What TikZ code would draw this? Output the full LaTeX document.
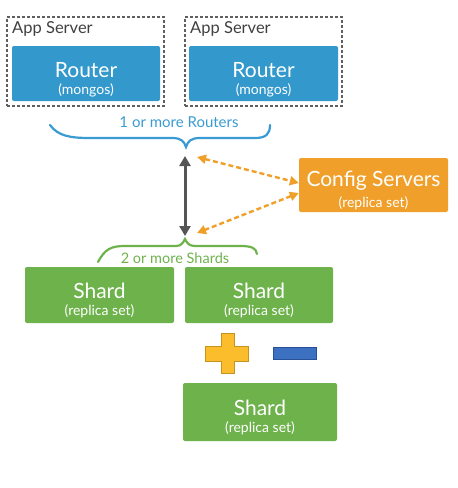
\documentclass[tikz,border=0pt]{standalone}
\usepackage{fontspec}
\setmainfont{Lato}
\usetikzlibrary{arrows.meta,positioning,calc}
\definecolor{mgblue}{RGB}{51,153,204}
\definecolor{mgbrace}{RGB}{58,155,210}
\definecolor{mgorange}{RGB}{240,160,42}
\definecolor{mggreen}{RGB}{110,178,76}
\definecolor{mggray}{RGB}{85,85,85}
\definecolor{mgdash}{RGB}{95,95,95}
\definecolor{mgyellow}{RGB}{252,189,45}
\definecolor{mgyellowd}{RGB}{196,148,30}
\definecolor{mgminus}{RGB}{60,112,192}
\definecolor{mgminusd}{RGB}{40,80,150}
\newcommand{\twoline}[2]{{\fontsize{21}{21}\selectfont\rule{0pt}{27pt}#1}\\[5pt]{\fontsize{14}{14}\selectfont #2}}
\tikzset{
  mbox/.style={rounded corners=2pt, fill=#1, text=white, align=center,
               inner sep=0pt, minimum height=55pt},
  appbox/.style={draw=mgdash, dash pattern=on 3pt off 2pt, line width=1.2pt,
                 minimum width=157pt, minimum height=89pt},
  applbl/.style={anchor=base west, inner sep=0pt, text=black!75,
                 font=\fontsize{16.5}{16.5}\selectfont},
  bracetxt/.style 2 args={text=#1, inner sep=0pt, font=\fontsize{#2}{#2}\selectfont},
  bracedraw/.style={draw=#1, line width=2.2pt, line cap=round},
  dasharrow/.style={draw=mgorange, line width=2.4pt, dash pattern=on 5pt off 3pt,
                    {Triangle[length=9pt,width=9pt]}-{Triangle[length=9pt,width=9pt]}},
}
\begin{document}
\begin{tikzpicture}[x=1pt, y=-1pt]
\useasboundingbox (0,0) rectangle (458,488);
% App servers with routers
\node[appbox] (app1) at (85.5,61.5) {};
\node[appbox] (app2) at (263.5,61.5) {};
\node[applbl] (app1lbl) at (12,33) {App Server};
\node[applbl] (app2lbl) at (190,33) {App Server};
\node[mbox=mgblue, minimum width=148pt] (router1) at (86,73.5) {\twoline{Router}{(mongos)}};
\node[mbox=mgblue, minimum width=149pt] (router2) at (263.5,73.5) {\twoline{Router}{(mongos)}};
% Router brace
\draw[bracedraw=mgbrace] (50,125) .. controls (58,136) and (70,138) .. (90,138) -- (172,138)
  .. controls (181,138) and (184,141) .. (186,147) .. controls (188,141) and (191,138) .. (200,138)
  -- (255,138) .. controls (266,138) and (270,134) .. (270,125);
\node[bracetxt={mgbrace}{15}] (routertxt) at (179,122) {1 or more Routers};
% Config servers
\node[mbox=mgorange, minimum width=149pt, minimum height=54pt] (cfg) at (373.5,185) {\twoline{Config Servers}{(replica set)}};
% Shard brace
\draw[bracedraw=mggreen] (98,262) .. controls (105,249) and (111,246) .. (125,246) -- (176,246)
  .. controls (181,246) and (183,243) .. (185,239) .. controls (187,243) and (189,246) .. (195,246)
  -- (240,246) .. controls (252,246) and (256,248) .. (257,254);
\node[bracetxt={mggreen}{14.5}] (shardtxt) at (175,258) {2 or more Shards};
% Brace tips
\coordinate (rtip) at (185,156);
\coordinate (stip) at (185,236);
\coordinate (rtipo) at (197,157);
\coordinate (stipo) at (197,233);
\draw[mggray, line width=3pt, {Triangle[length=10pt,width=11pt]}-{Triangle[length=10pt,width=11pt]}] (rtip) -- (stip);
\draw[dasharrow] (rtipo) -- ([yshift=2pt]cfg.west);
\draw[dasharrow] ([yshift=-8pt]cfg.west) -- (stipo);
% Shards
\node[mbox=mggreen, minimum width=149pt, minimum height=56pt] (shard1) at (99.5,295) {\twoline{Shard}{(replica set)}};
\node[mbox=mggreen, minimum width=148pt, minimum height=56pt] (shard2) at (259,295) {\twoline{Shard}{(replica set)}};
\node[mbox=mggreen, minimum width=154pt, minimum height=58pt] (shard3) at (260,412) {\twoline{Shard}{(replica set)}};
% Plus and minus
\filldraw[fill=mgyellow, draw=mgyellowd, line width=0.8pt]
  (221,333) -- (234,333) -- (234,346) -- (248,346) -- (248,361) -- (234,361) -- (234,373)
  -- (221,373) -- (221,361) -- (205,361) -- (205,346) -- (221,346) -- cycle;
\filldraw[fill=mgminus, draw=mgminusd, line width=0.6pt] (273,347) rectangle (316,359);
\end{tikzpicture}
\end{document}
